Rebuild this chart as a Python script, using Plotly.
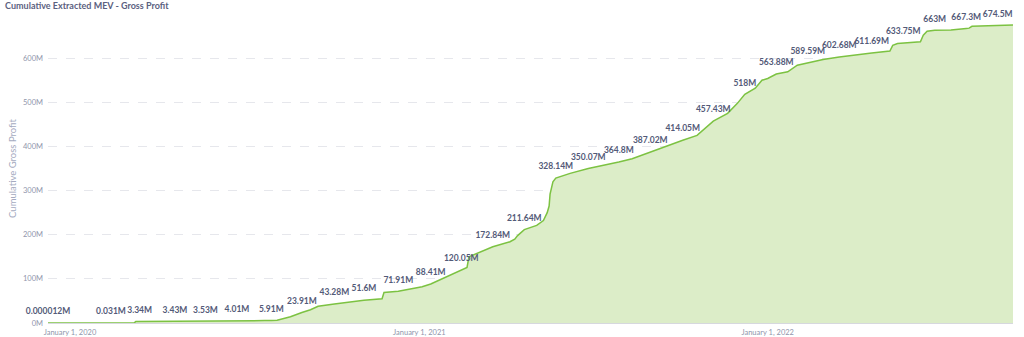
import plotly.graph_objects as go

# Cumulative extracted MEV (millions of USD)
dates = [
    "2019-12-09", "2020-02-13", "2020-03-08", "2020-03-10", "2020-03-14", "2020-04-20",
    "2020-05-22", "2020-06-24", "2020-07-08", "2020-07-23", "2020-07-30", "2020-08-05",
    "2020-08-19", "2020-08-26", "2020-08-31", "2020-09-09", "2020-09-17", "2020-10-04",
    "2020-10-21", "2020-11-04", "2020-11-23", "2020-11-25", "2020-12-10", "2020-12-28",
    "2021-01-04", "2021-01-13", "2021-01-26", "2021-02-14", "2021-02-20", "2021-02-22",
    "2021-03-19", "2021-04-06", "2021-04-11", "2021-04-14", "2021-04-21", "2021-05-04",
    "2021-05-11", "2021-05-15", "2021-05-17", "2021-05-18", "2021-05-21", "2021-05-24",
    "2021-06-08", "2021-06-27", "2021-07-13", "2021-07-29", "2021-08-12", "2021-08-31",
    "2021-09-07", "2021-09-18", "2021-10-04", "2021-10-19", "2021-10-28", "2021-11-05",
    "2021-11-20", "2021-11-30", "2021-12-08", "2021-12-19", "2021-12-26", "2022-01-01",
    "2022-01-10", "2022-01-22", "2022-02-01", "2022-02-12", "2022-02-28", "2022-03-17",
    "2022-04-03", "2022-04-20", "2022-05-09", "2022-05-12", "2022-05-17", "2022-05-23",
    "2022-06-10", "2022-06-13", "2022-06-17", "2022-06-25", "2022-07-12", "2022-07-28",
    "2022-07-31", "2022-08-03", "2022-08-30", "2022-09-15",
]
values = [
    0.000012, 0.031, 0.05, 3.3, 3.34, 3.43,
    3.53, 4.01, 4.5, 5.5, 5.91, 6.5,
    14, 20, 23.91, 30, 38, 43.28,
    48, 51.6, 55, 69, 71.91, 78,
    82, 88.41, 101, 120.05, 126, 150,
    172.84, 184, 190, 198, 211.64, 221,
    232, 250, 265, 292, 320, 328.14,
    339, 350.07, 357, 364.8, 372, 387.02,
    394, 403, 414.05, 425, 442, 457.43,
    475, 497, 518, 532, 550, 554,
    563.88, 569, 584, 589.59, 597, 602.68,
    608, 611.69, 616, 629, 633, 633.75,
    637, 652, 661, 663, 664, 667.3,
    668, 672, 674.5, 674.8,
]

# Labelled points
label_dates = [
    "2019-12-09", "2020-02-13", "2020-03-14", "2020-04-20", "2020-05-22", "2020-06-24",
    "2020-07-30", "2020-08-31", "2020-10-04", "2020-11-04", "2020-12-10", "2021-01-13",
    "2021-02-14", "2021-03-19", "2021-04-21", "2021-05-24", "2021-06-27", "2021-07-29",
    "2021-08-31", "2021-10-04", "2021-11-05", "2021-12-08", "2022-01-10", "2022-02-12",
    "2022-03-17", "2022-04-20", "2022-05-23", "2022-06-25", "2022-07-28", "2022-08-30",
]
label_values = [
    0.000012, 0.031, 3.34, 3.43, 3.53, 4.01,
    5.91, 23.91, 43.28, 51.6, 71.91, 88.41,
    120.05, 172.84, 211.64, 328.14, 350.07, 364.8,
    387.02, 414.05, 457.43, 518, 563.88, 589.59,
    602.68, 611.69, 633.75, 663, 667.3, 674.5,
]
label_texts = [
    "0.000012M", "0.031M", "3.34M", "3.43M", "3.53M", "4.01M",
    "5.91M", "23.91M", "43.28M", "51.6M", "71.91M", "88.41M",
    "120.05M", "172.84M", "211.64M", "328.14M", "350.07M", "364.8M",
    "387.02M", "414.05M", "457.43M", "518M", "563.88M", "589.59M",
    "602.68M", "611.69M", "633.75M", "663M", "667.3M", "674.5M",
]

y_tickvals = [0, 100, 200, 300, 400, 500, 600]
y_ticktext = ["0M", "100M", "200M", "300M", "400M", "500M", "600M"]
x_tickvals = ["2020-01-01", "2021-01-01", "2022-01-01"]
x_ticktext = ["January 1, 2020", "January 1, 2021", "January 1, 2022"]

FONT = "Lato"

fig = go.Figure()
fig.add_trace(go.Scatter(
    x=dates, y=values, mode="lines",
    line=dict(color="#7cc242", width=1.5),
    fill="tozeroy", fillcolor="#dcedc8",
    hoverinfo="skip", showlegend=False,
))
fig.add_trace(go.Scatter(
    x=label_dates, y=label_values, mode="markers+text",
    marker=dict(size=9, opacity=0),
    text=label_texts, textposition="top center",
    textfont=dict(family=FONT, size=8.5, color="#535a78", weight="bold"),
    cliponaxis=False, hoverinfo="skip", showlegend=False,
))

fig.update_layout(
    width=1024, height=337,
    margin=dict(l=48, r=11, t=14, b=14),
    paper_bgcolor="white", plot_bgcolor="white",
    font=dict(family=FONT),
    title=dict(
        text="Cumulative Extracted MEV - Gross Profit",
        x=0.005, xanchor="left", xref="container",
        y=0.982, yanchor="middle", yref="container",
        font=dict(family=FONT, size=9, color="#5b6180", weight="bold"),
    ),
    xaxis=dict(
        type="date", automargin=False,
        range=["2019-12-09", "2022-09-15"],
        tickvals=x_tickvals, ticktext=x_ticktext,
        tickfont=dict(family=FONT, size=7.5, color="#8f95ab"),
        showgrid=False, zeroline=False,
        showline=True, linecolor="#d6d8de", linewidth=1,
        ticks="", ticklabelstandoff=2,
    ),
    yaxis=dict(
        range=[0, 700], automargin=False,
        tickvals=y_tickvals, ticktext=y_ticktext,
        tickfont=dict(family=FONT, size=7.5, color="#8f95ab"),
        showgrid=True, gridcolor="#e6e7ec", griddash="dash", gridwidth=1,
        zeroline=False, showline=False, ticks="",
        ticklabelstandoff=4,
        title=dict(text="Cumulative Gross Profit", standoff=4,
                   font=dict(family=FONT, size=9.5, color="#a4aac0")),
    ),
)

fig.write_html("out.html")
